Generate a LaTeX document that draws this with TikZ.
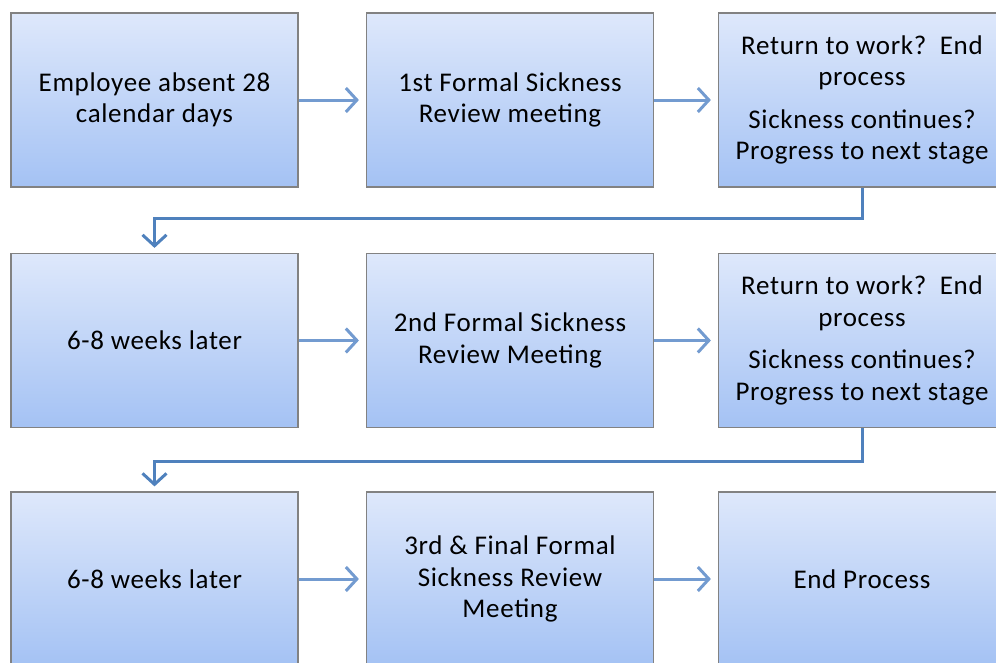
\documentclass[tikz,border=0pt]{standalone}
\usepackage{fontspec}
\setmainfont{Carlito}[LetterSpace=2.5]
\usepackage{tikz}
\usetikzlibrary{positioning}
\usetikzlibrary{arrows.meta}
\definecolor{boxTop}{RGB}{222,232,251}
\definecolor{boxBottom}{RGB}{164,194,244}
\definecolor{boxEdge}{RGB}{130,130,130}
\definecolor{arrowBlue}{RGB}{115,155,208}
\definecolor{loopBlue}{RGB}{79,129,189}

\begin{document}
\begin{tikzpicture}[x=1pt, y=-1pt,
	stageBox/.style={rectangle, draw=boxEdge, line width=1.2pt, top color=boxTop, bottom color=boxBottom, minimum width=287pt, minimum height=174pt, align=center, font=\fontsize{27}{31.5}\selectfont},
	flowArrow/.style={draw=arrowBlue, line width=3pt, -{Straight Barb[length=11pt,width=24pt]}, shorten >=7pt},
	loopArrow/.style={draw=loopBlue, line width=3pt, -{Straight Barb[length=11pt,width=24pt]}, shorten >=5pt}]
	\useasboundingbox (0,0) rectangle (996,662);
	\clip (0,0) rectangle (996,662);

	\node[stageBox](absent) at (154.5,100){Employee absent 28\\calendar days};
	\node[stageBox](reviewOne) at (510,100){1st Formal Sickness\\Review meeting};
	\node[stageBox](outcomeOne) at (862,100){Return to work?\ \ End\\process\\[11pt]Sickness continues?\\Progress to next stage};

	\node[stageBox](waitOne) at (154.5,340.5){6-8 weeks later};
	\node[stageBox](reviewTwo) at (510,340.5){2nd Formal Sickness\\Review Meeting};
	\node[stageBox](outcomeTwo) at (862,340.5){Return to work?\ \ End\\process\\[11pt]Sickness continues?\\Progress to next stage};

	\node[stageBox](waitTwo) at (154.5,579){6-8 weeks later};
	\node[stageBox](reviewThree) at (510,579){3rd \& Final Formal\\Sickness Review\\Meeting};
	\node[stageBox](endProcess) at (862,579){End Process};

	\draw[flowArrow] (absent.east) -- (reviewOne.west);
	\draw[flowArrow] (reviewOne.east) -- (outcomeOne.west);
	\draw[flowArrow] (waitOne.east) -- (reviewTwo.west);
	\draw[flowArrow] (reviewTwo.east) -- (outcomeTwo.west);
	\draw[flowArrow] (waitTwo.east) -- (reviewThree.west);
	\draw[flowArrow] (reviewThree.east) -- (endProcess.west);

	\draw[loopArrow] (outcomeOne.south) -- ++(0,31) -| (waitOne.north);
	\draw[loopArrow] (outcomeTwo.south) -- ++(0,33) -| (waitTwo.north);
\end{tikzpicture}
\end{document}
